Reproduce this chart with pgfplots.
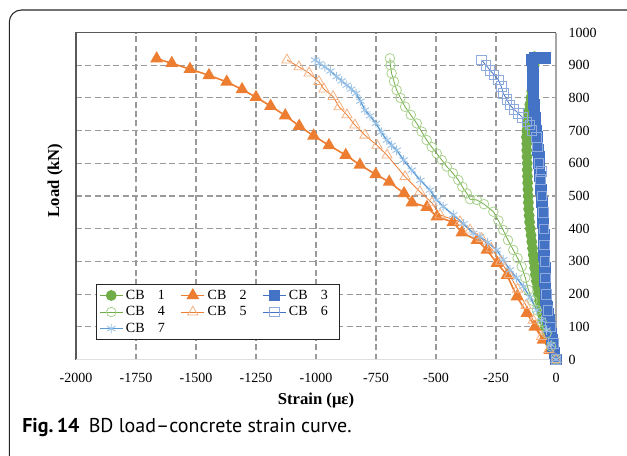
\documentclass[border=0pt]{standalone}
\usepackage{pgfplots}
\pgfplotsset{compat=1.18}
\usepackage{fontspec}
\setmainfont{Liberation Serif}
\newfontfamily\capfont{PT Sans}
\definecolor{cgreen}{HTML}{70AD47}
\definecolor{cgreenl}{HTML}{A9D18E}
\definecolor{corange}{HTML}{ED7D31}
\definecolor{corangel}{HTML}{F4B183}
\definecolor{cblue}{HTML}{4472C4}
\definecolor{cbluel}{HTML}{8FAADC}
\definecolor{csky}{HTML}{5B9BD5}
\definecolor{cskyl}{HTML}{9DC3E6}
\definecolor{gridc}{HTML}{9A9A9A}
\begin{document}
\begin{tikzpicture}
\useasboundingbox (0,0) rectangle (470.25pt,341.25pt);
\draw[line width=0.8pt, black!85, rounded corners=9pt] (7pt,-30pt) rectangle (490pt,333.75pt);
\node[anchor=west, font=\capfont\fontsize{15}{17}\selectfont, inner sep=0pt] at (16.5pt,20.5pt) {\textbf{Fig.\,14}\hspace{7pt}BD load–concrete strain curve.};
\node[font=\fontsize{12.5}{14}\selectfont\bfseries] at (237pt,41pt) {Strain (με)};
\node[font=\fontsize{12.5}{14}\selectfont\bfseries, rotate=90] at (41.25pt,206pt) {Load (kN)};
\begin{axis}[
  at={(57pt,71.625pt)}, anchor=south west,
  width=360pt, height=245.25pt, scale only axis,
  xmin=-2000, xmax=0, ymin=0, ymax=1000,
  xtick distance=250, ytick distance=100,
  major tick length=0pt,
  grid=major,
  grid style={gridc, line width=0.8pt, dash pattern=on 4.5pt off 2.5pt},
  axis line style={draw=none},
  yticklabel pos=right,
  /pgf/number format/assume math mode=true,
  /pgf/number format/1000 sep={},
  tick label style={font=\fontsize{10.5}{12}\selectfont},
  y tick label style={anchor=west, xshift=6pt},
  x tick label style={anchor=center, yshift=-14pt},
  legend columns=3,
  legend style={at={(axis description cs:0.0417,0.231)}, anchor=north west,
    draw=black!85, line width=0.8pt, font=\fontsize{10.5}{12}\selectfont,
    fill=white, inner sep=2pt, row sep=0pt,
    /tikz/every even column/.append style={column sep=5pt}},
  legend cell align=left,
  clip=false,
]
\draw[black!65, line width=1.1pt] (rel axis cs:0,0) -- (rel axis cs:0,1) -- (rel axis cs:1,1);
\draw[black!35, line width=1pt] (rel axis cs:1,0) -- (rel axis cs:1,1);
\draw[black!12, line width=1pt] (rel axis cs:0,0) -- (rel axis cs:1,0);
% CB1
\addplot[cgreen, line width=0.9pt, mark=*, mark size=3.6pt, mark options={fill=cgreen, draw=cgreen}] coordinates {
(0,0) (-10,20) (-20,40) (-29,60) (-37,80) (-45,100) (-52,120) (-58,140) (-64,160) (-69,180)
(-74,200) (-78,220) (-82,240) (-86,260) (-89,280) (-92,300) (-95,320) (-98,340) (-101,360) (-104,380)
(-107,400) (-110,420) (-112,440) (-114,460) (-115,480) (-116,500) (-117,520) (-118,540) (-119,560) (-120,580)
(-120,600) (-121,620) (-122,640) (-122,660) (-123,680) (-122,700) (-120,720) (-117,740) (-113,760) (-109,780)
(-105,800) (-101,820) (-98,840) (-95,860) (-93,880) (-91,900) (-89,915) (-90,926)};
\addlegendentry{\makebox[34pt][l]{CB\hspace{10pt}1}}
% CB2
\addplot[corange, line width=1.2pt, mark=triangle*, mark size=4.4pt, mark options={fill=corange, draw=corange}] coordinates {
(0,0) (-25,29) (-54,60) (-88,100) (-121,142) (-163,192) (-204,258) (-246,295) (-288,335) (-329,365)
(-392,388) (-429,420) (-496,437) (-538,466) (-600,480) (-633,508) (-695,543) (-751,566) (-817,595) (-876,625)
(-946,655) (-1010,684) (-1070,714) (-1128,746) (-1189,775) (-1250,802) (-1308,826) (-1372,849) (-1446,869) (-1525,888)
(-1601,906) (-1664,920)};
\addlegendentry{\makebox[34pt][l]{CB\hspace{10pt}2}}
% CB3
\addplot[cblue, line width=0.9pt, mark=square*, mark size=3.9pt, mark options={fill=cblue, draw=cblue}] coordinates {
(0,0) (-6,20) (-12,40) (-17,60) (-22,80) (-26,100) (-30,120) (-34,140) (-38,160) (-41,180)
(-43,200) (-44,220) (-45,240) (-46,260) (-47,280) (-48,300) (-49,320) (-50,340) (-50,360) (-51,380)
(-52,400) (-53,420) (-54,440) (-56,460) (-58,480) (-60,500) (-62,520) (-64,540) (-66,560) (-68,580)
(-70,600) (-72,620) (-74,640) (-77,660) (-80,680) (-83,700) (-85,720) (-87,740) (-89,760) (-91,780)
(-93,800) (-94,820) (-95,840) (-96,860) (-97,880) (-98,900) (-100,915) (-90,922) (-75,922) (-60,922) (-45,922)};
\addlegendentry{\makebox[34pt][l]{CB\hspace{10pt}3}}
% CB4
\addplot[cgreen, line width=0.6pt, mark=o, mark size=3.6pt, mark options={draw=cgreenl, line width=0.6pt}] coordinates {
(0,0) (-20,40) (-39,80) (-60,115) (-80,151) (-98,180) (-115,213) (-128,250) (-143,284) (-160,310)
(-178,335) (-200,365) (-220,396) (-240,425) (-261,452) (-300,475) (-330,488) (-358,490) (-372,508) (-390,528)
(-407,549) (-430,570) (-455,590) (-476,610) (-497,630) (-518,650) (-539,671) (-560,697) (-580,722) (-605,748)
(-629,773) (-648,800) (-664,824) (-675,850) (-685,875) (-690,900) (-692,921)};
\addlegendentry{\makebox[34pt][l]{CB\hspace{10pt}4}}
% CB5
\addplot[corange, line width=0.6pt, mark=triangle, mark size=4.4pt, mark options={draw=corangel, line width=0.6pt}] coordinates {
(0,0) (-30,30) (-60,70) (-95,120) (-125,165) (-160,215) (-195,260) (-230,300) (-270,340) (-310,370)
(-358,396) (-400,421) (-483,442) (-517,479) (-567,513) (-629,559) (-704,625) (-746,655) (-796,686) (-838,717)
(-871,748) (-904,773) (-929,804) (-967,827) (-988,850) (-1029,876) (-1071,895) (-1121,916)};
\addlegendentry{\makebox[34pt][l]{CB\hspace{10pt}5}}
% CB6
\addplot[cblue, line width=0.6pt, mark=square, mark size=3.6pt, mark options={draw=cbluel, line width=0.6pt}] coordinates {
(0,0) (-12,50) (-24,100) (-33,150) (-40,200) (-44,250) (-46,300) (-48,350) (-50,400) (-53,450)
(-58,500) (-64,550) (-60,575) (-72,600) (-78,650) (-82,680) (-100,700) (-108,718) (-122,727) (-140,740)
(-157,753) (-175,765) (-192,778) (-205,795) (-220,814) (-228,835) (-240,855) (-258,870) (-275,885) (-292,900)
(-310,916)};
\addlegendentry{\makebox[34pt][l]{CB\hspace{10pt}6}}
% CB7
\addplot[csky, line width=1pt, mark=asterisk, mark size=3.6pt, mark options={draw=cskyl, line width=0.7pt}] coordinates {
(0,0) (-20,45) (-39,90) (-60,120) (-80,151) (-108,190) (-136,223) (-165,250) (-192,274) (-220,305)
(-247,335) (-285,358) (-317,376) (-345,386) (-385,415) (-428,442) (-470,468) (-497,488) (-525,518) (-565,548)
(-601,579) (-635,610) (-664,640) (-685,655) (-705,671) (-728,695) (-750,722) (-775,745) (-796,763) (-815,790)
(-833,814) (-853,827) (-872,839) (-893,852) (-914,865) (-940,882) (-963,895) (-985,905) (-1004,916)};
\addlegendentry{\makebox[34pt][l]{CB\hspace{10pt}7}}
\end{axis}
\end{tikzpicture}
\end{document}
